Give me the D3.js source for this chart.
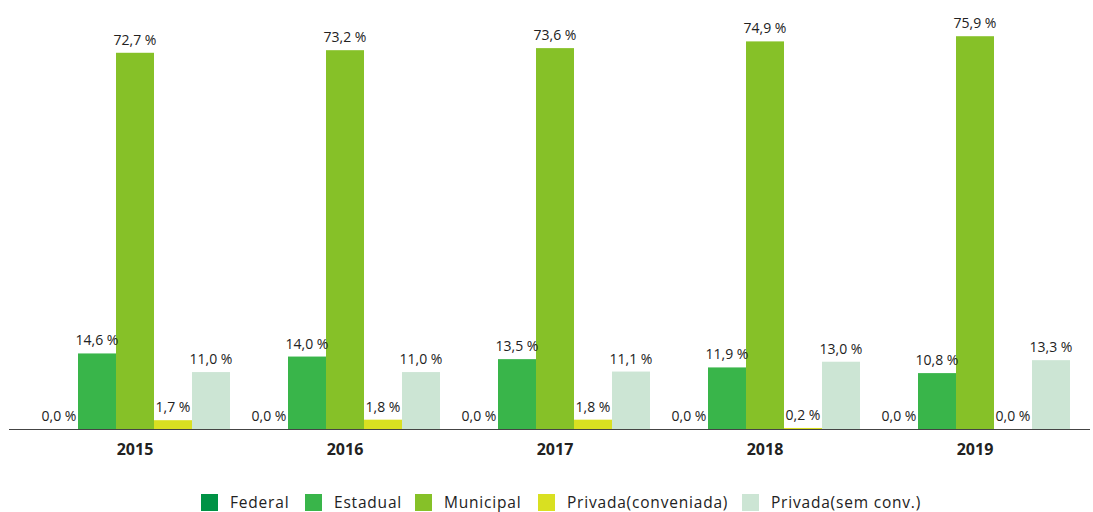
<!DOCTYPE html>
<html>
<head>
  <meta content="text/html;charset=utf-8" http-equiv="Content-Type">
  <title>Matrículas por dependência administrativa</title>
  <style type="text/css">
    body { margin: 0; background: #fff; }
    #chart text { font-family: "Open Sans", Lato, sans-serif; fill: #222; }
    .val { font-size: 14px; text-anchor: middle; }
    .year { font-size: 16px; font-weight: bold; text-anchor: middle; }
    .leg { font-size: 15.5px; letter-spacing: 0.8px; }
  </style>
  <script src="https://cdnjs.cloudflare.com/ajax/libs/d3/7.6.1/d3.min.js"></script>
  <script>

    var years = ['2015', '2016', '2017', '2018', '2019'];
    var series = ['Federal', 'Estadual', 'Municipal', 'Privada(conveniada)', 'Privada(sem conv.)'];
    var colors = ['#009245', '#39b54a', '#86c128', '#d9e021', '#cce5d4'];

    var federal    = [0.0, 0.0, 0.0, 0.0, 0.0];
    var estadual   = [14.6, 14.0, 13.5, 11.9, 10.8];
    var municipal  = [72.7, 73.2, 73.6, 74.9, 75.9];
    var conveniada = [1.7, 1.8, 1.8, 0.2, 0.0];
    var semConv    = [11.0, 11.0, 11.1, 13.0, 13.3];

    function main() {
      var values = [federal, estadual, municipal, conveniada, semConv];
      var svg = d3.select('#chart').attr('width', 1093).attr('height', 512);

      var x0 = d3.scaleBand().domain(years).range([30, 1080]);
      var x1 = d3.scaleBand().domain(series).range([10, 200]);
      var y = d3.scaleLinear().domain([0, 80]).range([429, 15]);

      var fmt = function(v) { return v.toFixed(1).replace('.', ',') + ' %'; };

      var group = svg.selectAll('g.grp').data(years).enter().append('g')
        .attr('class', 'grp')
        .attr('transform', function(d) { return 'translate(' + x0(d) + ',0)'; });

      group.each(function(yr, yi) {
        var g = d3.select(this);
        var rows = series.map(function(s, si) { return {s: s, v: values[si][yi], c: colors[si]}; });
        g.selectAll('rect').data(rows).enter().append('rect')
          .attr('x', function(d) { return x1(d.s); })
          .attr('width', x1.bandwidth())
          .attr('y', function(d) { return y(d.v); })
          .attr('height', function(d) { return y(0) - y(d.v); })
          .attr('fill', function(d) { return d.c; });
        g.selectAll('text.val').data(rows).enter().append('text')
          .attr('class', 'val')
          .attr('x', function(d) { return x1(d.s) + x1.bandwidth() / 2; })
          .attr('y', function(d) { return y(d.v) - 8; })
          .text(function(d) { return fmt(d.v); });
      });

      svg.append('line')
        .attr('x1', 9).attr('x2', 1090)
        .attr('y1', 429.5).attr('y2', 429.5)
        .attr('stroke', '#444').attr('stroke-width', 1);

      svg.selectAll('text.year').data(years).enter().append('text')
        .attr('class', 'year')
        .attr('x', function(d) { return x0(d) + x0.bandwidth() / 2; })
        .attr('y', 455)
        .text(function(d) { return d; });

      var legX = [201, 305, 415, 538, 742];
      var leg = svg.selectAll('g.leg').data(series).enter().append('g')
        .attr('transform', function(d, i) { return 'translate(' + legX[i] + ',494)'; });
      leg.append('rect').attr('width', 17).attr('height', 17)
        .attr('fill', function(d, i) { return colors[i]; });
      leg.append('text').attr('class', 'leg')
        .attr('x', 29).attr('y', 14)
        .text(function(d) { return d; });
    }

  </script>
</head>
<body onload="main()">
  <svg id="chart"></svg>
</body>
</html>
